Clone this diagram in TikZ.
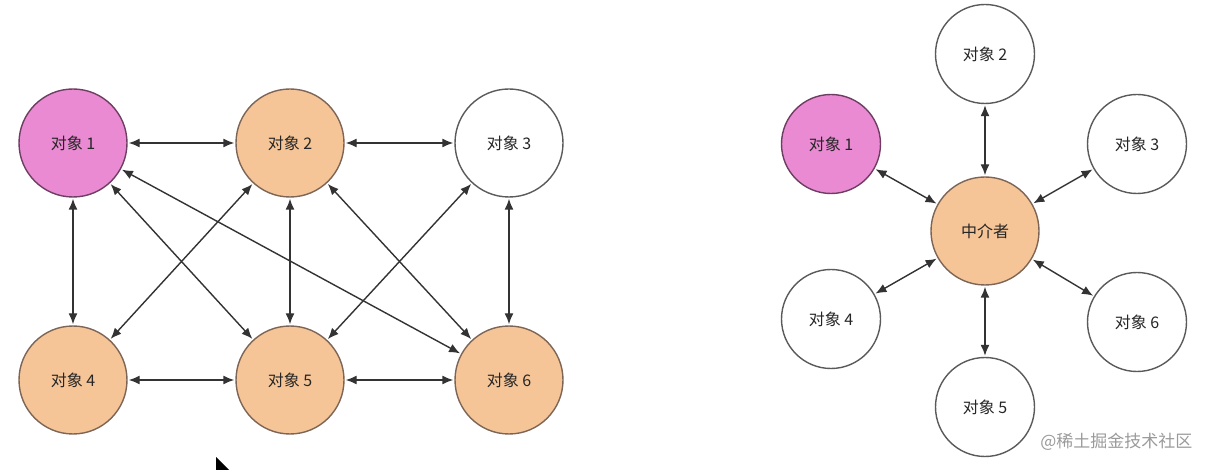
\documentclass[tikz,border=0pt]{standalone}
\usepackage{fontspec}
\setmainfont{Noto Sans CJK SC}
\usetikzlibrary{arrows.meta}
\definecolor{pinkfill}{HTML}{E98AD2}
\definecolor{pinkline}{HTML}{6E3E62}
\definecolor{orangefill}{HTML}{F6C597}
\definecolor{orangeline}{HTML}{7C6456}
\definecolor{whiteline}{HTML}{5A5A5A}
\definecolor{wm}{HTML}{9A9A9A}
\tikzset{
  obj/.style={circle, draw, line width=1.4pt, inner sep=0pt, font=\fontsize{16}{19}\selectfont, text=black!85},
  pinkobj/.style={obj, fill=pinkfill, draw=pinkline, minimum size=108pt},
  orangeobj/.style={obj, fill=orangefill, draw=orangeline, minimum size=108pt},
  whiteobj/.style={obj, fill=white, draw=whiteline, minimum size=108pt},
  smallobj/.style={minimum size=99pt},
  link/.style={{Latex[length=11pt,width=9pt]}-{Latex[length=11pt,width=9pt]}, line width=1.4pt, draw=black!80, shorten <=1pt, shorten >=1pt},
}
\begin{document}
\begin{tikzpicture}[x=1pt,y=-1pt]
\useasboundingbox (0,0) rectangle (1208,470);
% left graph
\node[pinkobj] (a1) at (73,143) {对象 1};
\node[orangeobj] (a2) at (290,143) {对象 2};
\node[whiteobj] (a3) at (509,143) {对象 3};
\node[orangeobj] (a4) at (73,380) {对象 4};
\node[orangeobj] (a5) at (290,380) {对象 5};
\node[orangeobj] (a6) at (509,380) {对象 6};
\draw[link] (a1) -- (a2);
\draw[link] (a2) -- (a3);
\draw[link] (a4) -- (a5);
\draw[link] (a5) -- (a6);
\draw[link] (a1) -- (a4);
\draw[link] (a2) -- (a5);
\draw[link] (a3) -- (a6);
\draw[link] (a1) -- (a5);
\draw[link] (a1) -- (a6);
\draw[link] (a2) -- (a4);
\draw[link] (a2) -- (a6);
\draw[link] (a3) -- (a5);
% right graph
\node[orangeobj] (m) at (985,231) {中介者};
\node[pinkobj, smallobj] (b1) at (831,144) {对象 1};
\node[whiteobj, smallobj] (b2) at (985,54) {对象 2};
\node[whiteobj, smallobj] (b3) at (1137,144) {对象 3};
\node[whiteobj, smallobj] (b4) at (831,319) {对象 4};
\node[whiteobj, smallobj] (b5) at (985,407) {对象 5};
\node[whiteobj, smallobj] (b6) at (1137,322) {对象 6};
\foreach \i in {1,...,6} {\draw[link] (m) -- (b\i);}
% watermark
\node[text=wm, font=\fontsize{17}{20}\selectfont, anchor=east] (wmk) at (1196,442) {@稀土掘金技术社区};
% cursor
\fill[black] (216,457) -- (216,470) -- (229,470) -- cycle;
\end{tikzpicture}
\end{document}
